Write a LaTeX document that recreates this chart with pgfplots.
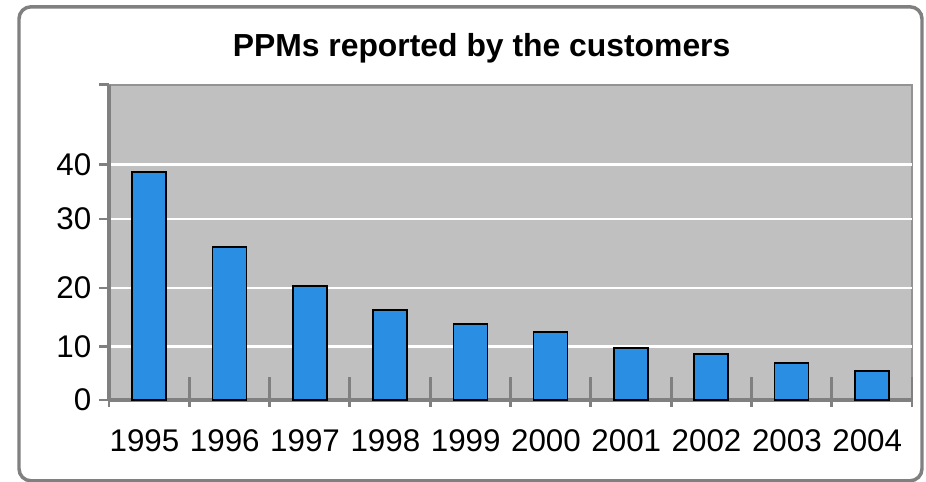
\documentclass[border=0pt]{standalone}
\usepackage{pgfplots}
\pgfplotsset{compat=1.18}
\usepackage{fontspec}
\setmainfont{Liberation Sans}

\definecolor{plotbg}{HTML}{C0C0C0}
\definecolor{axisgray}{HTML}{808080}
\definecolor{barblue}{HTML}{2A8FE3}

% 1px = 0.75pt throughout
\begin{document}
\begin{tikzpicture}
\useasboundingbox (0,0) rectangle (694.5pt,361.5pt);
% chart frame
\draw[axisgray, line width=2.6pt, rounded corners=9pt]
  (14.25pt,0.9pt) rectangle (691.5pt,356.4pt);
\begin{axis}[
  at={(81.75pt,61.5pt)}, anchor=south west,
  scale only axis,
  width=602.25pt, height=236.25pt,
  xmin=-0.5, xmax=9.5,
  ymin=0, ymax=54.815,
  % value axis is scaled in segments between the labelled ticks
  y coord trafo/.code={\pgfmathparse{#1<10 ? 5.35*#1 : (#1<20 ? 53.5+5.85*(#1-10) : (#1<30 ? 112+6.9*(#1-20) : (#1<40 ? 181+5.4*(#1-30) : 235+5.4*(#1-40))))}},
  axis background/.style={fill=plotbg, draw=axisgray!85, line width=1.5pt},
  axis x line*=bottom, axis y line*=left,
  axis line style={axisgray, line width=2.4pt},
  tick align=inside,
  major tick length=7.5pt,
  % category separators: short marks through the axis ...
  xtick={-0.5,0.5,...,9.5},
  x tick label as interval,
  xticklabels={1995,1996,1997,1998,1999,2000,2001,2002,2003,2004},
  major x tick style={axisgray, line width=2.2pt, yshift=-5.25pt},
  % ... extended upwards into the plot area
  minor xtick={-0.5,0.5,...,9.5},
  minor x tick style={axisgray, line width=2.2pt},
  minor tick length=17.25pt,
  ytick={0,10,20,30,40},
  yticklabels={0,10,20,30,40},
  extra y ticks={54.815},
  extra y tick labels={},
  extra y tick style={grid=none},
  y tick style={axisgray, line width=2.2pt, xshift=-7.5pt},
  ymajorgrids, xmajorgrids=false,
  major grid style={white, line width=2.2pt, xshift=0pt},
  tick label style={font=\fontsize{23.5pt}{27pt}\selectfont, text=black},
  yticklabel style={xshift=-9.75pt},
  xticklabel style={anchor=base, yshift=-38.5pt, xshift=-3.5pt},
  title={PPMs reported by the customers},
  title style={font=\fontsize{23.9pt}{27pt}\selectfont\bfseries,
    at={(0.464,1)}, anchor=base, yshift=15pt},
  clip=false,
]
\addplot[ybar, bar width=25.5pt, fill=barblue, draw=black, line width=1.2pt]
  coordinates {(0,38.7) (1,25.9) (2,20.3) (3,16.2) (4,13.8)
               (5,12.5) (6,9.7) (7,8.6) (8,6.9) (9,5.4)};
\end{axis}
\end{tikzpicture}
\end{document}
